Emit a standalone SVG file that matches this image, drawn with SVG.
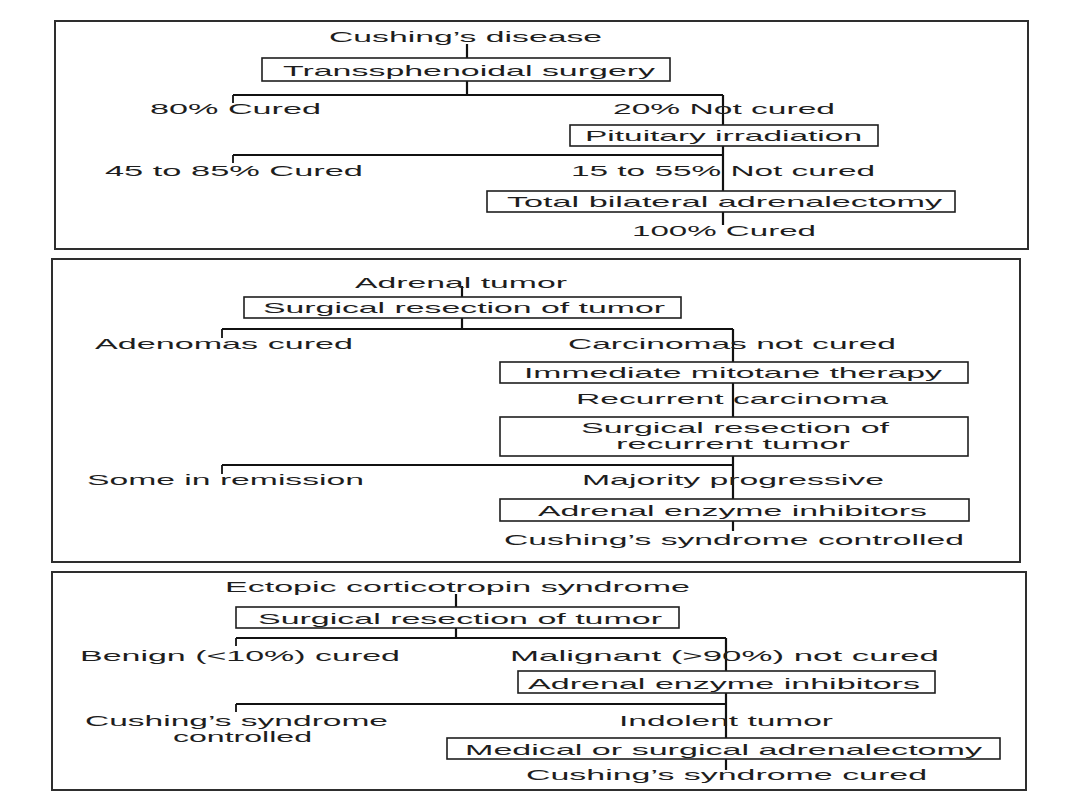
<svg xmlns="http://www.w3.org/2000/svg" width="1080" height="810" viewBox="0 0 1080 810">
<style>
text{font-family:"Liberation Sans",Arial,sans-serif;font-size:15px;fill:#1e1e1e}
.frame{fill:none;stroke:#2e2e2e;stroke-width:2}
.box{fill:#fff;stroke:#1e1e1e;stroke-width:1.6}
.c{fill:none;stroke:#111;stroke-width:1.8}
.v{fill:none;stroke:#111;stroke-width:2.2}
</style>
<rect x="0" y="0" width="1080" height="810" fill="#fff"/>
<g id="panels">
<rect class="frame" x="55" y="21" width="973" height="228"/>
<rect class="frame" x="52" y="259" width="968" height="303"/>
<rect class="frame" x="52" y="572" width="974" height="218"/>
</g>
<g id="connectors">
<path class="v" d="M467 44V58M467 81V95M723 95V125M723 146V191M723 212V225"/>
<path class="c" d="M233 95H723M233 95V103M233 155H723M233 155V163"/>
<path class="v" d="M462 286V297M462 318V329M733 329V362M733 383V417M733 456V499M733 521V531"/>
<path class="c" d="M222 329H733M222 329V338M222 465H733M222 465V474"/>
<path class="v" d="M456 594V607M456 628V638M726 638V671M726 693V738M726 759V770"/>
<path class="c" d="M236 638H726M236 638V646M236 704H726M236 704V712"/>
</g>
<g id="n-cushings-disease"><text x="329" y="42" textLength="273" lengthAdjust="spacingAndGlyphs">Cushing’s disease</text></g>
<g id="n-transsphenoidal"><rect class="box" x="262" y="58" width="408" height="23"/><text x="283" y="76" textLength="372" lengthAdjust="spacingAndGlyphs">Transsphenoidal surgery</text></g>
<g id="n-80-cured"><text x="150" y="114" textLength="171" lengthAdjust="spacingAndGlyphs">80% Cured</text></g>
<g id="n-20-not-cured"><text x="613" y="114" textLength="222" lengthAdjust="spacingAndGlyphs">20% Not cured</text></g>
<g id="n-pituitary"><rect class="box" x="570" y="125" width="308" height="21"/><text x="585" y="141" textLength="277" lengthAdjust="spacingAndGlyphs">Pituitary irradiation</text></g>
<g id="n-45-85-cured"><text x="105" y="176" textLength="258" lengthAdjust="spacingAndGlyphs">45 to 85% Cured</text></g>
<g id="n-15-55-not-cured"><text x="571" y="176" textLength="304" lengthAdjust="spacingAndGlyphs">15 to 55% Not cured</text></g>
<g id="n-total-adrenalectomy"><rect class="box" x="487" y="191" width="468" height="21"/><text x="507" y="207" textLength="435" lengthAdjust="spacingAndGlyphs">Total bilateral adrenalectomy</text></g>
<g id="n-100-cured"><text x="632" y="236" textLength="184" lengthAdjust="spacingAndGlyphs">100% Cured</text></g>
<g id="n-adrenal-tumor"><text x="355" y="288" textLength="212" lengthAdjust="spacingAndGlyphs">Adrenal tumor</text></g>
<g id="n-resection-1"><rect class="box" x="244" y="297" width="437" height="21"/><text x="263" y="313" textLength="402" lengthAdjust="spacingAndGlyphs">Surgical resection of tumor</text></g>
<g id="n-adenomas"><text x="95" y="349" textLength="258" lengthAdjust="spacingAndGlyphs">Adenomas cured</text></g>
<g id="n-carcinomas"><text x="568" y="349" textLength="328" lengthAdjust="spacingAndGlyphs">Carcinomas not cured</text></g>
<g id="n-mitotane"><rect class="box" x="500" y="362" width="468" height="21"/><text x="524" y="378" textLength="418" lengthAdjust="spacingAndGlyphs">Immediate mitotane therapy</text></g>
<g id="n-recurrent"><text x="576" y="404" textLength="312" lengthAdjust="spacingAndGlyphs">Recurrent carcinoma</text></g>
<g id="n-resection-recurrent"><rect class="box" x="500" y="417" width="468" height="39"/><text x="581" y="433" textLength="308" lengthAdjust="spacingAndGlyphs">Surgical resection of</text><text x="616" y="449" textLength="234" lengthAdjust="spacingAndGlyphs">recurrent tumor</text></g>
<g id="n-remission"><text x="87" y="485" textLength="277" lengthAdjust="spacingAndGlyphs">Some in remission</text></g>
<g id="n-progressive"><text x="582" y="485" textLength="302" lengthAdjust="spacingAndGlyphs">Majority progressive</text></g>
<g id="n-inhibitors-1"><rect class="box" x="500" y="499" width="469" height="22"/><text x="538" y="516" textLength="389" lengthAdjust="spacingAndGlyphs">Adrenal enzyme inhibitors</text></g>
<g id="n-controlled-1"><text x="504" y="545" textLength="460" lengthAdjust="spacingAndGlyphs">Cushing’s syndrome controlled</text></g>
<g id="n-ectopic"><text x="225" y="592" textLength="465" lengthAdjust="spacingAndGlyphs">Ectopic corticotropin syndrome</text></g>
<g id="n-resection-2"><rect class="box" x="236" y="607" width="443" height="21"/><text x="258" y="624" textLength="404" lengthAdjust="spacingAndGlyphs">Surgical resection of tumor</text></g>
<g id="n-benign"><text x="80" y="661" textLength="320" lengthAdjust="spacingAndGlyphs">Benign (&lt;10%) cured</text></g>
<g id="n-malignant"><text x="510" y="661" textLength="429" lengthAdjust="spacingAndGlyphs">Malignant (&gt;90%) not cured</text></g>
<g id="n-inhibitors-2"><rect class="box" x="518" y="671" width="417" height="22"/><text x="528" y="689" textLength="392" lengthAdjust="spacingAndGlyphs">Adrenal enzyme inhibitors</text></g>
<g id="n-controlled-2"><text x="85" y="726" textLength="303" lengthAdjust="spacingAndGlyphs">Cushing’s syndrome</text><text x="173" y="742" textLength="139" lengthAdjust="spacingAndGlyphs">controlled</text></g>
<g id="n-indolent"><text x="619" y="726" textLength="214" lengthAdjust="spacingAndGlyphs">Indolent tumor</text></g>
<g id="n-medical-surgical"><rect class="box" x="447" y="738" width="553" height="21"/><text x="465" y="755" textLength="517" lengthAdjust="spacingAndGlyphs">Medical or surgical adrenalectomy</text></g>
<g id="n-cured"><text x="526" y="780" textLength="401" lengthAdjust="spacingAndGlyphs">Cushing’s syndrome cured</text></g>
</svg>
